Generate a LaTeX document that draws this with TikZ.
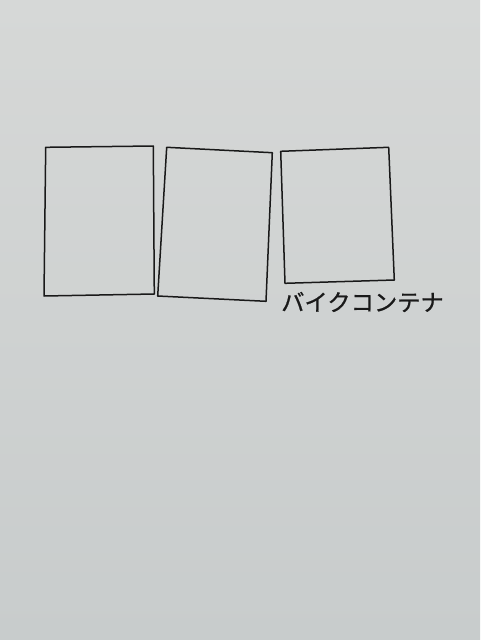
\documentclass[tikz,border=0pt]{standalone}
\usepackage{fontspec}
\newfontfamily\cjk[FakeBold=0.8]{Noto Sans CJK JP}
\definecolor{papertop}{RGB}{214,216,215}
\definecolor{paperbot}{RGB}{200,204,204}
\definecolor{ink}{RGB}{25,25,25}
\tikzset{box/.style={draw=ink, line width=1.5pt, line join=round}}
\begin{document}
\begin{tikzpicture}[x=1pt,y=-1pt]
\useasboundingbox (0,0) rectangle (480,640);
\shade[top color=papertop, bottom color=paperbot] (0,0) rectangle (480,640);
\draw[box] (45.7,147.3) -- (153.3,146) -- (154.3,294) -- (44,296) -- cycle;
\draw[box] (166.7,147.3) -- (272.3,152.7) -- (266,301.3) -- (157.7,296) -- cycle;
\draw[box] (280.7,151.3) -- (388.7,147.3) -- (394.3,280) -- (285,283.3) -- cycle;
\node[text=ink, inner sep=0pt, font=\cjk\fontsize{23.3}{25}\selectfont] (label) at (362.5,302) {バイクコンテナ};
\end{tikzpicture}
\end{document}
